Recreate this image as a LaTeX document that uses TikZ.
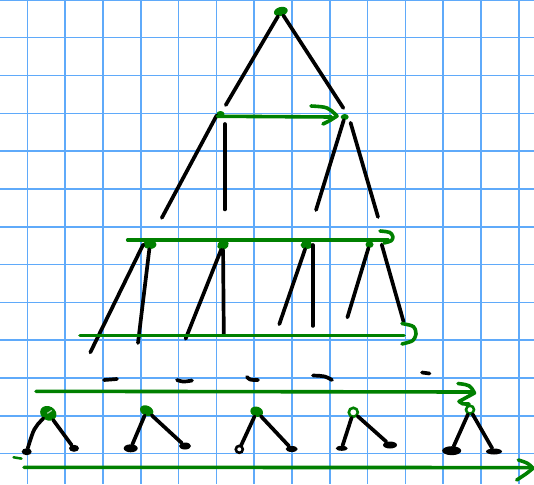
\documentclass[tikz,border=0pt]{standalone}
\usepackage{xcolor}
\usepackage{tikz}
\usetikzlibrary{shapes.geometric, positioning}

\definecolor{ink}{RGB}{0,128,0}
\definecolor{paper}{RGB}{95,170,250}

\tikzset{
  gnode/.style={ellipse, fill=ink, inner sep=0pt},
  ring/.style={circle, draw=ink, line width=2.6pt, inner sep=0pt, minimum size=#1},
  leaf/.style={ellipse, fill=black, inner sep=0pt},
  stroke/.style={line width=3.7pt, line cap=round},
  sweep/.style={ink, line width=3.6pt, line cap=round, line join=round},
}

\begin{document}
\begin{tikzpicture}[x=1pt, y=-1pt]
    \useasboundingbox (0,0) rectangle (534,484);

    % squared paper
    \foreach \i in {0,...,13}
        \draw[paper, line width=1.6pt] ({27.4+37.8*\i},0) -- ({27.4+37.8*\i},484);
    \foreach \j in {0,...,12}
        \draw[paper, line width=1.6pt] (0,{-0.1+37.8*\j}) -- (534,{-0.1+37.8*\j});

    % upper tree
    \node[gnode, minimum width=14pt, minimum height=9pt, rotate=15] (R) at (280.8,11.5) {};
    \node[gnode, minimum width=8pt, minimum height=6pt] (A) at (220.5,114) {};
    \node[gnode, minimum width=8pt, minimum height=6pt] (B) at (344.7,117) {};
    \node[gnode, minimum width=13pt, minimum height=9pt] (C) at (149.9,244.5) {};
    \node[gnode, minimum width=12pt, minimum height=9pt, rotate=20] (D) at (223,245) {};
    \node[gnode, minimum width=12pt, minimum height=8pt] (E) at (306.5,245) {};
    \node[gnode, minimum width=8pt, minimum height=7pt] (F) at (369.5,244.5) {};

    \coordinate (A1) at (161.8,217.9);
    \coordinate (A2) at (224.8,209.4);
    \coordinate (B1) at (316,210);
    \coordinate (B2) at (378,217);
    \coordinate (C1) at (90.3,352.4);
    \coordinate (C2) at (138,343);
    \coordinate (D1) at (185.6,338.8);
    \coordinate (D2) at (223.8,333.7);
    \coordinate (E1) at (279.3,324.2);
    \coordinate (E2) at (312.7,325.9);
    \coordinate (F1) at (347.4,317.4);
    \coordinate (F2) at (403.6,321.8);

    \path[stroke]
    (R) edge[shorten >=7pt] (A)
    (R) edge[shorten >=8pt] (B.north east)
    (A.200) edge (A1)
    (A2) edge[shorten >=10pt] (A2 |- A)
    (B) edge (B1)
    (B.east) edge[shorten <=6pt] (B2)
    (C.west) edge (C1)
    (C) edge (C2)
    (D) edge (D1)
    (D) edge (D2)
    (E) edge (E1)
    (E.east) edge (E2)
    (F) edge (F1)
    ([xshift=8pt]F.east) edge (F2);

    % dots under the third row
    \draw[stroke] (104,380) -- (117,379);
    \draw[stroke] (177,380) .. controls (183,382) .. (192,380.5);
    \draw[stroke] (247,377) .. controls (250,380) .. (258,380);
    \draw[stroke] (313,375.5) .. controls (325,376) .. (332,380);
    \draw[stroke] (422,372.5) -- (429.5,373.5);

    % small trees at the bottom
    \node[gnode, minimum width=17pt, minimum height=14pt, rotate=-30] (G) at (48.3,413.3) {};
    \node[leaf, minimum width=10pt, minimum height=7pt] (G1) at (26.7,451.7) {};
    \node[leaf, minimum width=10pt, minimum height=7pt] (G2) at (74,448.3) {};
    \node[gnode, minimum width=14pt, minimum height=10pt, rotate=-25] (H) at (146.7,410.7) {};
    \node[leaf, minimum width=14pt, minimum height=8pt] (H1) at (130.7,448.3) {};
    \node[leaf, minimum width=12pt, minimum height=7pt] (H2) at (185,446) {};
    \node[gnode, minimum width=13pt, minimum height=10pt, rotate=-20] (I) at (256.7,411.7) {};
    \node[circle, draw, line width=2.6pt, inner sep=0pt, minimum size=7pt] (I1) at (239.3,449.3) {};
    \node[leaf, minimum width=12pt, minimum height=6pt] (I2) at (291.7,449) {};
    \node[ring=9pt] (J) at (353.3,412.3) {};
    \node[leaf, minimum width=12pt, minimum height=5pt] (J1) at (341.7,448.3) {};
    \node[leaf, minimum width=14pt, minimum height=7pt] (J2) at (390,445) {};
    \node[ring=8pt] (K) at (470,409.7) {};
    \node[leaf, minimum width=19pt, minimum height=9pt] (K1) at (451.7,450.7) {};
    \node[leaf, minimum width=16pt, minimum height=6pt] (K2) at (494,451.5) {};

    \draw[stroke] (G) .. controls (34,428) .. (G1);
    \draw[stroke] (G) -- (G2);
    \draw[stroke] (H) -- (H1);
    \draw[stroke] (H) -- (H2);
    \draw[stroke] (I) -- (I1);
    \draw[stroke] (I) -- (I2);
    \draw[stroke] (J) -- (J1);
    \draw[stroke] (J) -- (J2);
    \draw[stroke] (K) -- (K1);
    \draw[stroke] (K) -- (K2);
    \draw[ink!35, line width=1.2pt, line cap=round] (47.5,413.2) -- (51.5,410.6);
    \draw[ink, line width=2.5pt, line cap=round] (13.5,457.3) -- (21.5,458.6);

    % green sweeps
    \coordinate (L2s) at (127.7,240);
    \coordinate (L2e) at (388,240);
    \coordinate (L3s) at (80,335.4);
    \coordinate (L3e) at (404,335.4);
    \coordinate (L4s) at (36,391.3);
    \coordinate (L4e) at (472,392);
    \coordinate (L5s) at (24,467.3);
    \coordinate (L5e) at (530,467.6);

    \draw[sweep] (A.south west) -- ([xshift=-9pt]B.west);
    \draw[sweep] (L2s) -- (L2e);
    \draw[sweep] (L3s) -- (L3e);
    \draw[sweep] (L4s) -- (L4e);
    \draw[sweep] (L5s) -- (L5e);

    % hand drawn heads
    \draw[sweep] (311,106) .. controls (328,107) .. (337,116) .. controls (331,120) .. (323,124);
    \draw[sweep] (380,231) .. controls (391,232) .. (393,237) .. controls (392,241) .. (384,243);
    \draw[sweep] (402,323.5) .. controls (415,326) .. (416,334) .. controls (414,341) .. (402,344);
    \draw[sweep] (458,383.5) .. controls (470,385) .. (474.5,393) .. controls (466,397) .. (459,401.5)
        .. controls (462,404) .. (469,404);
    \draw[sweep] (518.3,460) .. controls (528,463) .. (533,468.3) .. controls (526,474) .. (516.7,480);

\end{tikzpicture}
\end{document}
